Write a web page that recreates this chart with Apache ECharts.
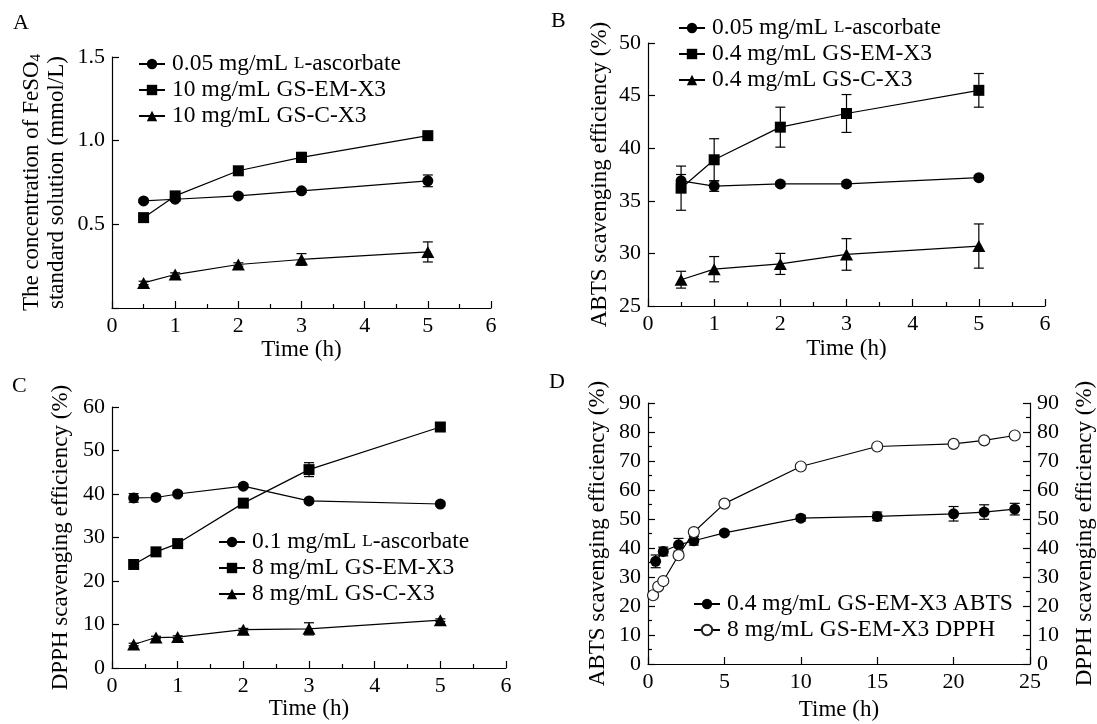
<!DOCTYPE html>
<html>
<head>
<meta charset="utf-8">
<script src="https://cdn.jsdelivr.net/npm/echarts@6/dist/echarts.min.js"></script>
<style>
  html, body { margin: 0; padding: 0; background: #fff; }
  #chart { width: 1097px; height: 724px; }
</style>
</head>
<body>
<div id="chart"></div>
<script>
// A: reducing power (FeSO4 equivalent)
const timeA = [0.5, 1, 2, 3, 5];
const ascA = [0.64, 0.65, 0.67, 0.70, 0.76];
const ascAErr = [0.01, 0.01, 0.01, 0.01, 0.035];
const emA = [0.54, 0.67, 0.82, 0.90, 1.03];
const emAErr = [0.01, 0.01, 0.01, 0.03, 0.01];
const cA = [0.15, 0.20, 0.26, 0.29, 0.335];
const cAErr = [0.01, 0.01, 0.01, 0.035, 0.06];

// B: ABTS
const timeB = [0.5, 1, 2, 3, 5];
const ascB = [36.9, 36.4, 36.6, 36.6, 37.2];
const ascBErr = [0.6, 0.5, 0.2, 0.2, 0.2];
const emB = [36.2, 38.9, 42.0, 43.3, 45.5];
const emBErr = [2.1, 2.0, 1.9, 1.8, 1.6];
const cB = [27.5, 28.5, 29.0, 29.9, 30.7];
const cBErr = [0.8, 1.2, 1.0, 1.5, 2.1];

// C: DPPH
const timeC = [0.33, 0.67, 1, 2, 3, 5];
const ascC = [39.1, 39.2, 40.0, 41.8, 38.4, 37.7];
const ascCErr = [1.0, 0.5, 0.4, 0.4, 0.4, 0.4];
const emC = [23.8, 26.7, 28.6, 37.9, 45.6, 55.4];
const emCErr = [0.5, 0.5, 0.5, 0.5, 1.6, 0.5];
const cC = [5.4, 7.0, 7.1, 8.8, 9.0, 11.0];
const cCErr = [0.3, 0.3, 0.3, 0.3, 1.4, 0.3];

// D: long-term ABTS / DPPH
const timeAbts = [0.5, 1, 2, 3, 5, 10, 15, 20, 22, 24];
const abtsD = [35.4, 38.8, 41.1, 42.5, 45.2, 50.3, 50.9, 51.8, 52.4, 53.4];
const abtsDErr = [2.2, 1.5, 2.2, 1.5, 0.6, 1.0, 1.5, 2.5, 2.5, 2.0];
const timeDpph = [0.33, 0.67, 1, 2, 3, 5, 10, 15, 20, 22, 24];
const dpphD = [23.7, 26.7, 28.6, 37.5, 45.5, 55.3, 68.1, 75.0, 75.9, 77.1, 78.8];
const dpphDErr = [0.8, 0.8, 0.8, 0.8, 1.0, 0.5, 0.8, 0.8, 0.5, 0.5, 0.5];

const namesA = ['0.05 mg/mL L-ascorbate', '10 mg/mL GS-EM-X3', '10 mg/mL GS-C-X3'];
const namesB = ['0.05 mg/mL L-ascorbate', '0.4 mg/mL GS-EM-X3', '0.4 mg/mL GS-C-X3'];
const namesC = ['0.1 mg/mL L-ascorbate', '8 mg/mL GS-EM-X3', '8 mg/mL GS-C-X3'];
const namesD = ['0.4 mg/mL GS-EM-X3 ABTS', '8 mg/mL GS-EM-X3 DPPH'];

const FONT = 'Liberation Serif';
const black = '#000';

function pairs(xs, ys) {
  return xs.map((x, i) => [x, ys[i]]);
}

function lineSeries(name, xi, yi, xs, ys, symbol, open) {
  return {
    name: name,
    type: 'line',
    xAxisIndex: xi,
    yAxisIndex: yi,
    data: pairs(xs, ys),
    symbol: symbol,
    symbolSize: symbol === 'triangle' ? [13, 12] : 11,
    showAllSymbol: true,
    lineStyle: { color: black, width: 1.2 },
    itemStyle: open
      ? { color: '#fff', borderColor: '#222', borderWidth: 1.2 }
      : { color: black },
    emphasis: { disabled: true },
    z: 3
  };
}

// error bars drawn through the axes' coord system
function errSeries(xi, yi, xs, ys, errs) {
  return {
    type: 'custom',
    xAxisIndex: xi,
    yAxisIndex: yi,
    silent: true,
    z: 2,
    data: xs.map((x, i) => [x, ys[i] - errs[i], ys[i] + errs[i]]),
    renderItem: function (params, api) {
      const lo = api.coord([api.value(0), api.value(1)]);
      const hi = api.coord([api.value(0), api.value(2)]);
      const w = 5;
      const st = { stroke: black, lineWidth: 1.2 };
      return {
        type: 'group',
        children: [
          { type: 'line', shape: { x1: lo[0], y1: lo[1], x2: hi[0], y2: hi[1] }, style: st },
          { type: 'line', shape: { x1: lo[0] - w, y1: lo[1], x2: lo[0] + w, y2: lo[1] }, style: st },
          { type: 'line', shape: { x1: hi[0] - w, y1: hi[1], x2: hi[0] + w, y2: hi[1] }, style: st }
        ]
      };
    }
  };
}

function xAx(grid, max, interval, minor, gap) {
  return {
    type: 'value', gridIndex: grid, min: 0, max: max, interval: interval,
    name: 'Time (h)', nameLocation: 'middle', nameGap: gap,
    nameTextStyle: { fontFamily: FONT, fontSize: 23, color: black },
    axisLine: { show: true, onZero: false, lineStyle: { color: black, width: 1.2 } },
    axisTick: { show: true, inside: true, length: 7, lineStyle: { color: black, width: 1.2 } },
    minorTick: { show: minor, splitNumber: 2, length: 4, lineStyle: { color: black, width: 1.2 } },
    axisLabel: { fontFamily: FONT, fontSize: 22, color: black, margin: 7 },
    splitLine: { show: false }
  };
}

function yAx(grid, min, max, interval, name, gap, opts) {
  const o = opts || {};
  return {
    type: 'value', gridIndex: grid, min: min, max: max, interval: interval,
    position: o.position || 'left',
    name: name, nameLocation: 'middle', nameGap: gap, nameRotate: 90,
    nameTextStyle: Object.assign({ fontFamily: FONT, fontSize: 23, color: black }, o.nameStyle || {}),
    axisLine: { show: true, onZero: false, lineStyle: { color: black, width: 1.2 } },
    axisTick: { show: true, inside: true, length: 7, lineStyle: { color: black, width: 1.2 } },
    minorTick: { show: !!o.minor, splitNumber: 2, length: 4, lineStyle: { color: black, width: 1.2 } },
    axisLabel: {
      fontFamily: FONT, fontSize: 22, color: black, margin: 7,
      formatter: o.formatter || null
    },
    splitLine: { show: false }
  };
}

function legend(names, left, top, gap) {
  return {
    data: names,
    orient: 'vertical',
    left: left,
    top: top,
    itemWidth: 26,
    itemHeight: 13,
    itemGap: gap,
    selectedMode: false,
    formatter: function (n) {
      return n.replace(' L-ascorbate', ' {sc|L}-ascorbate');
    },
    textStyle: {
      fontFamily: FONT, fontSize: 23.5, color: black, lineHeight: 23, padding: [0, 0, 0, 2],
      rich: { sc: { fontFamily: FONT, fontSize: 17, color: black } }
    }
  };
}

function letter(t, x, y) {
  return { type: 'text', left: x, top: y, style: { text: t, fontFamily: FONT, fontSize: 22, fill: black } };
}

const option = {
  backgroundColor: '#fff',
  animation: false,
  grid: [
    { left: 112, top: 57, width: 379, height: 251 },
    { left: 648, top: 43, width: 397, height: 263 },
    { left: 112, top: 407, width: 394, height: 261 },
    { left: 648, top: 403, width: 382, height: 261 }
  ],
  xAxis: [
    xAx(0, 6, 1, true, 30),
    xAx(1, 6, 1, true, 31),
    xAx(2, 6, 1, true, 25),
    xAx(3, 25, 5, false, 34)
  ],
  yAxis: [
    yAx(0, 0, 1.5, 0.5, 'The concentration of FeSO{sub|4}\nstandard solution (mmol/L)', 43, {
      formatter: function (v) { return v === 0 ? '' : v.toFixed(1); },
      nameStyle: {
        lineHeight: 25,
        rich: { sub: { fontFamily: FONT, fontSize: 15, color: black, lineHeight: 14, verticalAlign: 'bottom' } }
      }
    }),
    yAx(1, 25, 50, 5, 'ABTS scavenging efficiency (%)', 37),
    yAx(2, 0, 60, 10, 'DPPH scavenging efficiency (%)', 40),
    yAx(3, 0, 90, 10, 'ABTS scavenging efficiency (%)', 39, { minor: true }),
    yAx(3, 0, 90, 10, 'DPPH scavenging efficiency (%)', 43, { minor: true, position: 'right' })
  ],
  legend: [
    legend(namesA, 133, 47, 2),
    legend(namesB, 673, 11, 2),
    legend(namesC, 213, 525, 2),
    legend(namesD, 688, 587, 2)
  ],
  graphic: [
    letter('A', 13, 12),
    letter('B', 551, 10),
    letter('C', 12, 375),
    letter('D', 549, 371)
  ],
  series: [
    errSeries(0, 0, timeA, ascA, ascAErr),
    errSeries(0, 0, timeA, emA, emAErr),
    errSeries(0, 0, timeA, cA, cAErr),
    lineSeries(namesA[0], 0, 0, timeA, ascA, 'circle'),
    lineSeries(namesA[1], 0, 0, timeA, emA, 'rect'),
    lineSeries(namesA[2], 0, 0, timeA, cA, 'triangle'),

    errSeries(1, 1, timeB, ascB, ascBErr),
    errSeries(1, 1, timeB, emB, emBErr),
    errSeries(1, 1, timeB, cB, cBErr),
    lineSeries(namesB[0], 1, 1, timeB, ascB, 'circle'),
    lineSeries(namesB[1], 1, 1, timeB, emB, 'rect'),
    lineSeries(namesB[2], 1, 1, timeB, cB, 'triangle'),

    errSeries(2, 2, timeC, ascC, ascCErr),
    errSeries(2, 2, timeC, emC, emCErr),
    errSeries(2, 2, timeC, cC, cCErr),
    lineSeries(namesC[0], 2, 2, timeC, ascC, 'circle'),
    lineSeries(namesC[1], 2, 2, timeC, emC, 'rect'),
    lineSeries(namesC[2], 2, 2, timeC, cC, 'triangle'),

    errSeries(3, 3, timeAbts, abtsD, abtsDErr),
    errSeries(3, 4, timeDpph, dpphD, dpphDErr),
    lineSeries(namesD[0], 3, 3, timeAbts, abtsD, 'circle'),
    lineSeries(namesD[1], 3, 4, timeDpph, dpphD, 'circle', true)
  ]
};

const myChart = echarts.init(document.getElementById('chart'));
myChart.setOption(option);
</script>
</body>
</html>
